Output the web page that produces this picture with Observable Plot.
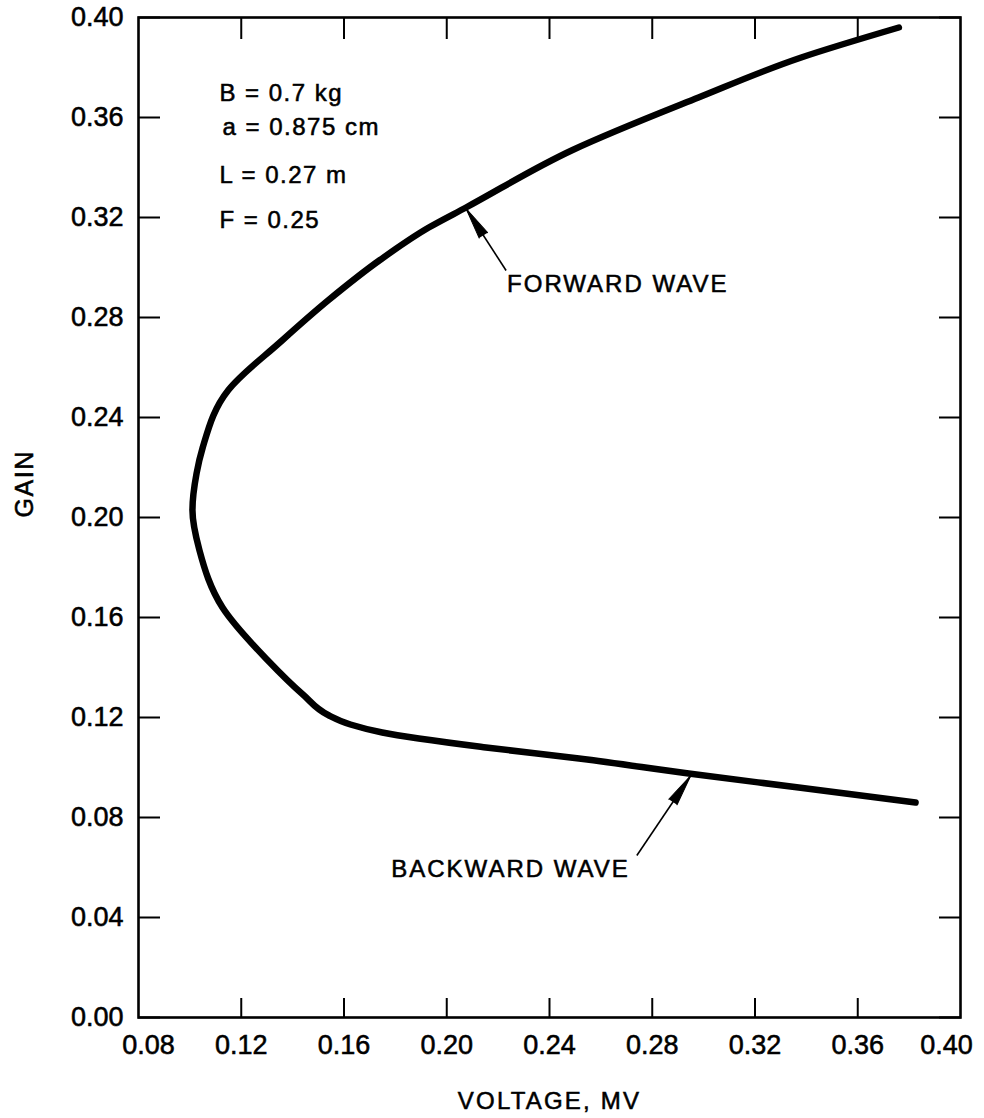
<!DOCTYPE html>
<html>
<head>
<meta charset="utf-8">
<script src="https://cdn.jsdelivr.net/npm/d3@7"></script>
<script src="https://cdn.jsdelivr.net/npm/@observablehq/plot@0.6"></script>
<style>
  html, body { margin: 0; padding: 0; background: #fff; }
  svg { display: block; }
  svg text { stroke: black; stroke-width: 0.55px; }
</style>
</head>
<body>
<div id="chart"></div>
<script>
// Curve traced from the upper (forward wave) end, round the nose, to the lower (backward wave) end
const voltage = [0.376, 0.338, 0.298, 0.249, 0.2075, 0.193, 0.174, 0.154, 0.135, 0.115, 0.105, 0.1026, 0.101, 0.1037, 0.1127, 0.1300, 0.1440, 0.1540, 0.1625, 0.1749, 0.2153, 0.2515, 0.2942, 0.337, 0.3825];
const gain    = [0.396, 0.384, 0.368, 0.347, 0.324,  0.316, 0.303, 0.287, 0.270, 0.251, 0.228, 0.2176, 0.203, 0.187,  0.164,  0.1432, 0.1292, 0.1209, 0.1172, 0.114,  0.108,  0.1036, 0.0976, 0.092, 0.086];

const xTicks = [0.08, 0.12, 0.16, 0.20, 0.24, 0.28, 0.32, 0.36, 0.40];
const yTicks = [0.00, 0.04, 0.08, 0.12, 0.16, 0.20, 0.24, 0.28, 0.32, 0.36, 0.40];

const paramText = ["B = 0.7 kg", "a = 0.875 cm", "L = 0.27 m", "F = 0.25"];
const paramX = [0.1115, 0.1127, 0.1115, 0.1115];
const paramY = [0.3696, 0.3560, 0.3368, 0.3190];

const waveText = ["FORWARD WAVE", "BACKWARD WAVE"];
const waveTextX = [0.2235, 0.1784];
const waveTextY = [0.2932, 0.0592];
const arrowTailX = [0.2231, 0.2740];
const arrowTailY = [0.2988, 0.0648];
const arrowTipX = [0.2075, 0.2950];
const arrowTipY = [0.3236, 0.0968];

const xTitle = "VOLTAGE, MV";
const yTitle = "GAIN";

// gain falls steadily along the traced path, so order by gain for a monotone-in-y curve
const curve = voltage.map((v, i) => ({v, g: gain[i]})).sort((a, b) => a.g - b.g);
const params = paramText.map((t, i) => ({t, x: paramX[i], y: paramY[i]}));
const waves = waveText.map((t, i) => ({t, x: waveTextX[i], y: waveTextY[i]}));
const arrows = waveText.map((t, i) => ({x1: arrowTailX[i], y1: arrowTailY[i], x2: arrowTipX[i], y2: arrowTipY[i]}));

const xInner = xTicks.slice(1, -1);
const xFirst = xTicks.slice(0, 1);
const xLast = xTicks.slice(-1);
const fmt = d3.format(".2f");
const font = "'Liberation Sans', Arial, Helvetica, sans-serif";

function options(rotations) {
  return {
    width: 984,
    height: 1118,
    marginLeft: 138,
    marginRight: 24,
    marginTop: 17,
    marginBottom: 101,
    style: {fontFamily: font, fontSize: "27px", color: "black", background: "white"},
    x: {domain: [0.08, 0.40]},
    y: {domain: [0, 0.40]},
    marks: [
      Plot.axisX(xInner, {anchor: "bottom", tickSize: -19, tickPadding: 36, strokeWidth: 2, tickFormat: fmt, fontSize: 27, label: null}),
      Plot.axisX(xFirst, {anchor: "bottom", tickSize: 0, tickPadding: 17, dx: 10, tickFormat: fmt, fontSize: 27, label: null}),
      Plot.axisX(xLast, {anchor: "bottom", tickSize: 0, tickPadding: 17, dx: -14, tickFormat: fmt, fontSize: 27, label: null}),
      Plot.axisX(xInner, {anchor: "top", tickSize: -21, strokeWidth: 2, tickFormat: () => "", label: null}),
      Plot.axisY(yTicks, {anchor: "left", tickSize: -22, tickPadding: 37, strokeWidth: 2, tickFormat: fmt, fontSize: 27, label: null}),
      Plot.axisY(yTicks, {anchor: "right", tickSize: -22, strokeWidth: 2, tickFormat: () => "", label: null}),
      Plot.frame({stroke: "black", strokeWidth: 2.6}),
      Plot.text([xTitle], {frameAnchor: "bottom", dy: 91, fontSize: 24}),
      Plot.text([yTitle], {frameAnchor: "left", dx: -114, rotate: -90, fontSize: 25}),
      Plot.line(curve, {x: "v", y: "g", curve: "monotone-y", stroke: "black", strokeWidth: 6.5, strokeLinecap: "round", strokeLinejoin: "round"}),
      Plot.text(params, {x: "x", y: "y", text: "t", textAnchor: "start", fontSize: 24}),
      Plot.text(waves, {x: "x", y: "y", text: "t", textAnchor: "start", fontSize: 24}),
      Plot.link(arrows, {x1: "x1", y1: "y1", x2: "x2", y2: "y2", stroke: "black", strokeWidth: 1.6}),
      Plot.vector(arrows, {x: "x2", y: "y2", length: 32, rotate: (d, i) => rotations[i] ?? 0, anchor: "end", shape: "spike", r: 5, fill: "black", stroke: "black", strokeWidth: 1})
    ]
  };
}

const base = Plot.plot(options([0, 0]));
const sx = base.scale("x"), sy = base.scale("y");
const rotations = arrows.map(d => Math.atan2(sx.apply(d.x2) - sx.apply(d.x1), -(sy.apply(d.y2) - sy.apply(d.y1))) * 180 / Math.PI);
const chart = Plot.plot(options(rotations));
document.getElementById("chart").append(chart);

// letter spacing as in the typeset original
const spacing = new Map([
  ...waveText.map(t => [t, "2px"]),
  ...paramText.map(t => [t, "1.5px"]),
  [xTitle, "2.2px"],
  [yTitle, "1.6px"]
]);
d3.select(chart).selectAll("text").each(function() {
  const s = spacing.get(this.textContent);
  if (s) this.setAttribute("letter-spacing", s);
});
</script>
</body>
</html>
